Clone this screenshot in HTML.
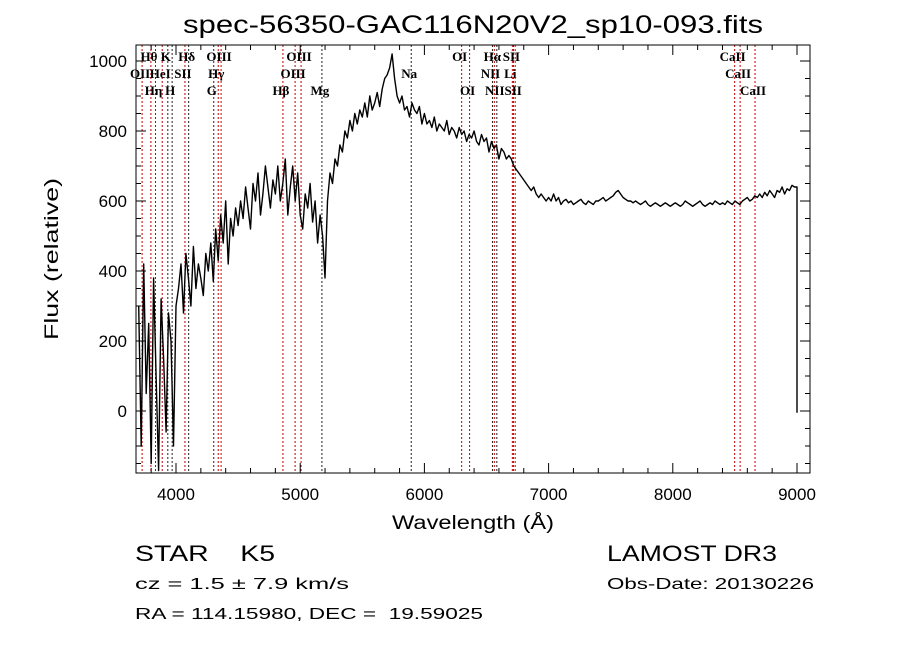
<!DOCTYPE html>
<html><head><meta charset="utf-8"><style>
html,body{margin:0;padding:0;background:#fff;}
svg{display:block;}
text{font-family:"Liberation Sans",sans-serif;fill:#000;white-space:pre;}
.lbl{font-family:"Liberation Serif",serif;font-size:13px;font-weight:bold;}
</style></head><body>
<svg id="chart" width="900" height="649" viewBox="0 0 900 649" xmlns="http://www.w3.org/2000/svg" xml:space="preserve">
<rect x="0" y="0" width="900" height="649" fill="#fff"/>
<text x="473" y="33" font-size="25" text-anchor="middle" textLength="580" lengthAdjust="spacingAndGlyphs">spec-56350-GAC116N20V2_sp10-093.fits</text>
<g id="lines"></g>
<g id="spec"></g>
<g id="axes"></g>
<text x="473" y="529" font-size="19" text-anchor="middle" textLength="162" lengthAdjust="spacingAndGlyphs">Wavelength (Å)</text>
<text transform="translate(58,259) rotate(-90)" font-size="19" text-anchor="middle" textLength="162" lengthAdjust="spacingAndGlyphs">Flux (relative)</text>
<text x="135" y="561" font-size="22" textLength="140" lengthAdjust="spacingAndGlyphs">STAR    K5</text>
<text x="135" y="589" font-size="16" textLength="214" lengthAdjust="spacingAndGlyphs">cz = 1.5 ± 7.9 km/s</text>
<text x="135" y="619" font-size="16" textLength="348" lengthAdjust="spacingAndGlyphs">RA = 114.15980, DEC =  19.59025</text>
<text x="607" y="561" font-size="22" textLength="170" lengthAdjust="spacingAndGlyphs">LAMOST DR3</text>
<text x="607" y="589" font-size="16" textLength="207" lengthAdjust="spacingAndGlyphs">Obs-Date: 20130226</text>
</svg>
<script>
const startWave = 3700;
const stepWave = 20;
const flux = [300,-100,420,50,250,-150,380,100,-170,320,150,-60,280,200,-100,300,
350,420,280,450,380,300,470,350,420,380,330,450,400,480,370,
520,430,560,480,600,420,550,500,580,530,
600,550,640,580,520,650,600,680,560,620,700,640,580,660,620,
700,600,650,720,560,640,700,600,680,560,
520,620,580,650,540,600,480,560,500,380,
600,680,650,720,700,760,740,800,780,830,800,850,820,860,840,
880,840,900,860,880,910,870,920,950,960,
980,1020,950,900,880,
900,860,870,840,880,860,850,870,820,
850,820,830,810,840,800,820,810,800,830,790,810,800,780,810,790,800,770,790,780,800,770,760,790,770,
780,740,770,750,760,720,750,740,720,730,
720,700,690,680,670,660,650,640,630,640,620,610,620,610,600,
610,600,620,600,610,590,600,605,595,600,590,595,600,605,595,590,600,595,590,600,600,605,610,600,605,
610,615,625,630,620,610,605,600,600,595,
600,595,590,595,600,590,585,590,595,590,585,590,595,590,585,
590,595,590,585,590,600,595,590,585,590,595,600,590,585,590,595,590,600,595,590,595,590,600,595,590,
600,595,590,600,605,610,600,605,615,610,
620,610,625,615,630,620,610,630,625,640,620,635,630,645,640];
const tailWave = 9000;
const tailFlux = -5;
const lineNames = ["OII","Hθ","Hη","HeI","K","H","SII","Hδ","G","Hγ","OIII","Hβ","OIII","OIII","Mg","Na","OI","OI","NII","Hα","NII","Li","SII","SII","CaII","CaII","CaII"];
const lineWaves = [3727,3798,3835,3889,3934,3969,4072,4102,4304,4340,4363,4861,4959,5007,5175,5894,6300,6364,6548,6563,6583,6708,6717,6731,8498,8542,8662];
const lineRows = [2,1,3,2,1,3,2,1,3,2,1,3,2,1,3,2,1,3,2,1,3,2,1,3,1,2,3];
const lineBlack = [0,0,0,0,1,1,0,1,1,0,0,0,0,0,1,1,0,0,1,0,1,0,0,0,0,0,0];
const xTicks = [4000,5000,6000,7000,8000,9000];
const yTicks = [0,200,400,600,800,1000];

const L=136,R=810,T=45,B=473;
const X=w=>176+(w-4000)*0.1242;
const Y=v=>411-v*0.35;
const NS="http://www.w3.org/2000/svg";
function mk(tag,attrs,parent){const e=document.createElementNS(NS,tag);for(const k in attrs)e.setAttribute(k,attrs[k]);parent.appendChild(e);return e;}

const gl=document.getElementById('lines');
lineWaves.forEach((w,i)=>{
  const l=mk('line',{x1:X(w),x2:X(w),y1:T,y2:B,stroke:lineBlack[i]?'#222':'#c00000','stroke-width':1,'stroke-dasharray':'2,2'},gl);
  
  
  const t=mk('text',{x:X(w)-2,y:44+lineRows[i]*17,'text-anchor':'middle',class:'lbl'},gl);
  t.textContent=lineNames[i];
  
  
});

const gs=document.getElementById('spec');
let d='';
flux.forEach((v,i)=>{d+=(i?'L':'M')+X(startWave+i*stepWave).toFixed(1)+','+Y(v).toFixed(1);});
d+='L'+X(tailWave).toFixed(1)+','+Y(flux[flux.length-1]).toFixed(1)+'L'+X(tailWave).toFixed(1)+','+Y(tailFlux).toFixed(1);
const p=mk('path',{d:d,fill:'none',stroke:'#000','stroke-width':1.4,'stroke-linejoin':'round'},gs);



const ga=document.getElementById('axes');
const fr=mk('rect',{x:L,y:T,width:R-L,height:B-T,fill:'none',stroke:'#000','stroke-width':1},ga);


for(let w=3800;w<=9000;w+=200){
  const major=w%1000===0;const len=major?10:5;const x=X(w);
  if(x<L||x>R)continue;
  mk('line',{x1:x,x2:x,y1:B,y2:B-len,stroke:'#000'},ga);
  mk('line',{x1:x,x2:x,y1:T,y2:T+len,stroke:'#000'},ga);
}
xTicks.forEach(w=>{
  const t=mk('text',{x:X(w),y:500,'font-size':17,'text-anchor':'middle'},ga);
  t.textContent=w;
  
  
});
for(let v=-150;v<=1000;v+=50){
  const major=v%200===0;const len=major?10:5;const y=Y(v);
  if(y<T||y>B)continue;
  mk('line',{x1:L,x2:L+len,y1:y,y2:y,stroke:'#000'},ga);
  mk('line',{x1:R,x2:R-len,y1:y,y2:y,stroke:'#000'},ga);
}
yTicks.forEach(v=>{
  const t=mk('text',{x:127,y:Y(v)+6,'font-size':17,'text-anchor':'end'},ga);
  t.textContent=v;
  
  
});
</script>
</body></html>
